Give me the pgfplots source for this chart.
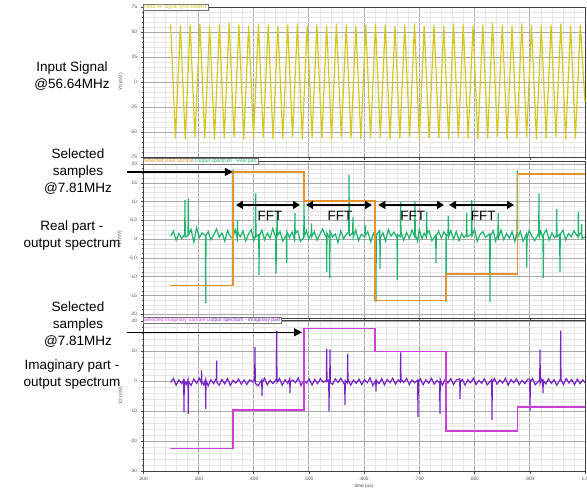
\documentclass[border=0pt]{standalone}
\usepackage{fontspec}
\setmainfont{Liberation Sans}
\usepackage{pgfplots}
\pgfplotsset{compat=1.18}
\usetikzlibrary{arrows.meta}

\definecolor{sigyellow}{HTML}{D4C81E}
\definecolor{selorange}{HTML}{E8922C}
\definecolor{outgreen}{HTML}{1DB46C}
\definecolor{selmagenta}{HTML}{CC3FD9}
\definecolor{outpurple}{HTML}{7A22C8}
\definecolor{majgrid}{HTML}{A8A8A8}
\definecolor{mingrid}{HTML}{E6E6E6}

\pgfplotsset{
  panel/.style={
    scale only axis, width=442pt,
    xmin=0.2, xmax=1.0,
    xtick distance=0.1, minor x tick num=4,
    grid=both,
    major grid style={line width=0.5pt, draw=majgrid},
    minor grid style={line width=0.3pt, draw=mingrid},
    axis line style={draw=black!75, line width=0.7pt},
    tick align=outside, major tick length=2.5pt, minor tick length=1.2pt,
    tick style={black!70, line width=0.4pt},
    xtick pos=bottom, ytick pos=left,
    ticklabel style={font=\fontsize{4.8}{5}\selectfont, text=black!70},
    /pgf/number format/assume math mode=true,
    ylabel style={font=\fontsize{4.8}{5}\selectfont, text=black!70},
    xlabel style={font=\fontsize{4.8}{5}\selectfont, text=black!70},
    clip=false,
  },
}
\tikzset{
  tab/.style={anchor=west, inner xsep=1pt, inner ysep=0.8pt, fill=white,
    draw=black!55, line width=0.3pt, font=\fontsize{5}{5.5}\selectfont},
  callout/.style={draw=black, line width=1.5pt, -{Triangle[length=8pt,width=8pt]}},
  fftarrow/.style={draw=black, line width=1.5pt, {Triangle[length=7pt,width=8pt]}-{Triangle[length=7pt,width=8pt]}},
  fft/.style={font=\fontsize{13.5}{14}\selectfont, inner sep=0pt},
}

\begin{document}
\begin{tikzpicture}
\path[use as bounding box] (0,0) rectangle (587pt,-489pt);

% ---------------- input signal ----------------
\begin{axis}[panel, at={(143pt,-7pt)}, anchor=north west, height=150pt,
  ymin=-75, ymax=75, ytick distance=25, minor y tick num=4,
  xticklabels={}, ylabel={Y0 (mV)}]
\addplot[sigyellow, line width=1.2pt, line join=round] coordinates {
(0.2500,57) (0.2588,-56) (0.2677,56) (0.2765,-57) (0.2853,57) (0.2941,-55)
(0.3030,58) (0.3118,-56) (0.3206,56) (0.3294,-57) (0.3383,57) (0.3471,-56)
(0.3559,59) (0.3648,-55) (0.3736,57) (0.3824,-57) (0.3912,56) (0.4001,-56)
(0.4089,58) (0.4177,-55) (0.4266,57) (0.4354,-57) (0.4442,56) (0.4530,-56)
(0.4619,57) (0.4707,-55) (0.4795,58) (0.4883,-57) (0.4972,56) (0.5060,-56)
(0.5148,57) (0.5237,-56) (0.5325,56) (0.5413,-57) (0.5501,58) (0.5590,-55)
(0.5678,57) (0.5766,-56) (0.5854,56) (0.5943,-57) (0.6031,57) (0.6119,-56)
(0.6208,58) (0.6296,-55) (0.6384,57) (0.6472,-57) (0.6561,56) (0.6649,-56)
(0.6737,57) (0.6826,-55) (0.6914,58) (0.7002,-57) (0.7090,56) (0.7179,-56)
(0.7267,57) (0.7355,-56) (0.7443,56) (0.7532,-57) (0.7620,58) (0.7708,-55)
(0.7797,57) (0.7885,-56) (0.7973,56) (0.8061,-57) (0.8150,57) (0.8238,-56)
(0.8326,59) (0.8414,-55) (0.8503,57) (0.8591,-57) (0.8679,56) (0.8768,-56)
(0.8856,58) (0.8944,-55) (0.9032,57) (0.9121,-57) (0.9209,56) (0.9297,-56)
(0.9386,57) (0.9474,-55) (0.9562,58) (0.9650,-57) (0.9739,56) (0.9827,-56)
(0.9915,57) (1.0000,-20)
};
\node[tab] at (rel axis cs:0,1) {\textcolor{sigyellow}{Input RF signal @56.64MHz}};
\end{axis}

% ---------------- real part ----------------
\begin{axis}[panel, at={(143pt,-161pt)}, anchor=north west, height=157pt,
  ymin=-21, ymax=20.8, ytick={-20,-15,-10,-5,0,5,10,15,20},
  yticklabels={-20,-15,-10,-5.0,0,5.0,10,15,20}, minor y tick num=3,
  xticklabels={}, ylabel={Y1 (mV)}]
\addplot[outgreen, line width=1.2pt] coordinates {
(0.250,0.8) (0.255,2.1) (0.260,-0.3) (0.265,1.5) (0.270,0.2) (0.2755,1.2)
(0.276,10.4) (0.2765,0.6) (0.2815,0.9) (0.282,10.8) (0.2825,1.3) (0.287,2.6)
(0.292,-0.8) (0.297,3.0) (0.302,0.4) (0.307,1.7) (0.3130,0.9) (0.3135,-17.0)
(0.3140,1.0) (0.318,2.0) (0.323,-0.2) (0.328,1.1) (0.333,2.7) (0.338,0.5)
(0.343,1.6) (0.348,-0.6) (0.353,2.3) (0.358,0.7) (0.3630,0.2) (0.3635,18.5)
(0.3640,1.3) (0.367,2.4) (0.3705,0.1) (0.371,5.0) (0.3715,1.8) (0.376,0.6)
(0.381,2.2) (0.386,-0.5) (0.391,1.4) (0.396,2.5) (0.4005,-0.4) (0.4035,1.0)
(0.404,12.2) (0.4045,0.6) (0.4095,1.2) (0.410,-9.6) (0.4105,0.8) (0.415,2.4)
(0.420,-0.2) (0.425,1.6) (0.430,0.3) (0.435,2.8) (0.4400,0.5) (0.4407,-9.2)
(0.4420,1.3) (0.443,7.3) (0.4435,1.0) (0.448,2.0) (0.453,-0.5) (0.4595,1.1)
(0.460,-6.3) (0.4605,2.0) (0.465,0.4) (0.470,1.9) (0.4745,-0.3) (0.475,6.9)
(0.4755,1.4) (0.480,2.2) (0.485,-0.6) (0.4910,0.5) (0.4914,10.5) (0.4920,0.8)
(0.496,2.3) (0.500,0.0) (0.5045,1.5) (0.505,4.2) (0.5055,0.7) (0.510,2.0)
(0.515,-0.3) (0.520,1.2) (0.525,2.7) (0.5320,0.4) (0.5325,-8.7) (0.5330,1.6)
(0.5375,0.2) (0.538,-10.4) (0.5385,2.1) (0.543,0.6) (0.548,1.4) (0.553,-0.9)
(0.558,2.2) (0.563,0.1) (0.568,1.3) (0.5725,2.0) (0.5729,17.1) (0.5735,0.9)
(0.5795,1.6) (0.580,5.8) (0.5805,0.5) (0.585,2.4) (0.590,-0.4) (0.595,1.3)
(0.6015,0.5) (0.602,3.8) (0.6025,1.1) (0.607,2.0) (0.612,-0.7) (0.617,1.5)
(0.6212,0.3) (0.6217,-16.7) (0.6222,1.1) (0.6285,2.3) (0.629,-8.0) (0.6295,0.2)
(0.634,1.7) (0.639,-0.5) (0.644,2.5) (0.649,0.8) (0.654,1.9) (0.6598,0.4)
(0.6603,-10.9) (0.6608,1.2) (0.6659,0.6) (0.6664,10.0) (0.6669,2.0) (0.672,-0.3)
(0.677,1.8) (0.682,0.2) (0.687,2.4) (0.6918,0.7) (0.6923,10.0) (0.6928,1.3)
(0.697,-0.6) (0.700,2.6) (0.705,0.1) (0.709,1.6) (0.7130,0.5) (0.7135,7.3)
(0.7140,1.4) (0.718,2.2) (0.723,-0.4) (0.7298,1.0) (0.7303,-6.3) (0.7308,0.8)
(0.735,2.1) (0.740,0.3) (0.7445,1.9) (0.7482,1.2) (0.7486,-16.7) (0.7490,0.8)
(0.7521,1.5) (0.7526,6.2) (0.7531,0.6) (0.757,2.3) (0.762,0.0) (0.767,2.0)
(0.772,-0.4) (0.777,1.5) (0.781,0.4) (0.7854,1.2) (0.7859,6.9) (0.7864,0.6)
(0.7945,1.3) (0.795,10.4) (0.7955,0.9) (0.800,2.6) (0.805,-0.6) (0.810,1.2)
(0.815,2.0) (0.820,0.5) (0.8275,1.4) (0.828,-16.7) (0.8285,0.7) (0.834,2.2)
(0.838,-0.5) (0.8425,1.3) (0.843,6.9) (0.8435,0.4) (0.848,2.4) (0.853,-0.2)
(0.858,1.5) (0.863,0.3) (0.868,2.0) (0.873,-0.6) (0.8770,1.8) (0.8775,18.3)
(0.8780,0.5) (0.883,2.0) (0.888,-0.6) (0.8940,1.4) (0.8945,-7.5) (0.8950,0.2)
(0.899,2.3) (0.904,0.8) (0.909,-0.4) (0.9162,1.5) (0.9167,12.2) (0.9172,0.6)
(0.920,2.1) (0.9240,0.2) (0.9245,-10.4) (0.9250,1.2) (0.930,2.5) (0.935,-0.3)
(0.940,1.6) (0.945,0.4) (0.9483,1.0) (0.9488,8.0) (0.9493,0.6) (0.9542,1.3)
(0.9547,-8.7) (0.9552,1.2) (0.960,2.4) (0.965,-0.2) (0.970,1.5) (0.975,0.6)
(0.980,2.2) (0.9875,0.5) (0.988,7.3) (0.9885,1.0) (0.9935,1.8) (0.9940,4.0)
(0.9945,0.2) (1.000,0.6)
};
\addplot[selorange, line width=1.5pt, line cap=round] coordinates {
(0.250,-12.3) (0.3629,-12.3) (0.3629,17.9) (0.4914,17.9) (0.4914,10.1)
(0.6198,10.1) (0.6198,-16.4) (0.7484,-16.4) (0.7484,-9.3) (0.8775,-9.3)
(0.8775,17.3) (0.9995,17.3)
};
\node[tab] at (rel axis cs:0,1) {\textcolor{selorange}{Selected Real Sample} \textcolor{outgreen}{Output spectrum - Real part}};
\draw[callout] (axis cs:0.171,17.9) -- (axis cs:0.3625,17.9);
\draw[fftarrow] (axis cs:0.3683,9.1) -- (axis cs:0.4842,9.1);
\draw[fftarrow] (axis cs:0.4950,9.1) -- (axis cs:0.6145,9.1);
\draw[fftarrow] (axis cs:0.6258,9.1) -- (axis cs:0.7448,9.1);
\draw[fftarrow] (axis cs:0.7541,9.1) -- (axis cs:0.8715,9.1);
\node[fft] at (axis cs:0.4300,6.3) {FFT};
\node[fft] at (axis cs:0.5566,6.3) {FFT};
\node[fft] at (axis cs:0.6881,6.3) {FFT};
\node[fft] at (axis cs:0.8159,6.3) {FFT};
\end{axis}

% ---------------- imaginary part ----------------
\begin{axis}[panel, at={(143pt,-320pt)}, anchor=north west, height=151pt,
  ymin=-30, ymax=20.3, ytick={-30,-20,-10,0,10,20}, minor y tick num=4,
  xtick={0.2,0.3,0.4,0.5,0.6,0.7,0.8,0.9,1.0},
  xticklabels={.200,.300,.400,.500,.600,.700,.800,.900,1.0},
  xlabel={time (us)}, ylabel={Y2 (mV)}, xlabel style={yshift=3pt}]
\addplot[outpurple, line width=1.2pt] coordinates {
(0.250,-0.5) (0.255,0.8) (0.260,-1.4) (0.265,0.3) (0.270,-0.9) (0.2737,0.4)
(0.2742,-10.4) (0.2747,0.2) (0.278,-1.2) (0.2815,0.5) (0.282,-11.0) (0.2825,-0.3)
(0.287,-1.5) (0.292,0.6) (0.297,-0.8) (0.302,0.9) (0.3055,-0.6) (0.306,3.5)
(0.3065,-0.2) (0.310,-1.3) (0.3130,0.4) (0.3135,-9.3) (0.3140,0.1) (0.318,-1.6)
(0.323,0.4) (0.328,-0.9) (0.3328,0.9) (0.3333,6.8) (0.3338,-0.6) (0.338,-1.4)
(0.343,0.5) (0.348,-1.0) (0.353,0.8) (0.358,-1.5) (0.363,0.2) (0.368,-0.7)
(0.373,0.6) (0.378,-1.1) (0.383,0.3) (0.388,-1.2) (0.393,0.4) (0.398,-0.3)
(0.4022,0.5) (0.4027,11.3) (0.4032,-0.8) (0.408,-1.6) (0.4149,0.3) (0.4154,-5.0)
(0.4159,-0.6) (0.420,0.9) (0.425,-1.3) (0.430,0.2) (0.435,-0.9) (0.4415,0.6)
(0.442,16.8) (0.4425,-0.5) (0.447,0.8) (0.452,-1.4) (0.457,0.4) (0.462,-0.8)
(0.4655,0.7) (0.466,-4.0) (0.4665,-0.2) (0.471,0.3) (0.476,-0.6) (0.481,1.0)
(0.486,-1.5) (0.491,0.2) (0.496,-0.7) (0.501,0.6) (0.506,-1.3) (0.511,0.5)
(0.516,-0.9) (0.521,0.8) (0.526,-0.4) (0.5320,0.2) (0.5325,10.7) (0.5330,-0.2)
(0.5362,0.3) (0.5367,-10.0) (0.5372,-0.4) (0.5380,0.4) (0.5385,10.5) (0.5390,-0.6)
(0.543,-1.1) (0.548,0.7) (0.553,-0.5) (0.558,0.9) (0.5651,-1.3) (0.5656,-8.0)
(0.5661,0.1) (0.5700,-0.7) (0.5705,9.0) (0.5710,0.5) (0.576,-1.4) (0.581,0.3)
(0.586,-0.8) (0.591,0.6) (0.596,-1.2) (0.601,0.4) (0.606,-0.6) (0.611,1.0)
(0.616,-1.5) (0.6212,0.2) (0.6217,-3.5) (0.6222,0.2) (0.627,-0.9) (0.632,0.7)
(0.637,-1.3) (0.642,0.5) (0.647,-0.6) (0.652,0.9) (0.657,-1.0) (0.662,0.3)
(0.6659,-0.4) (0.6664,9.5) (0.6669,0.6) (0.672,-0.5) (0.677,0.8) (0.682,-1.2)
(0.687,0.3) (0.692,-0.6) (0.6972,0.3) (0.6977,-12.0) (0.6982,-0.4) (0.702,0.7)
(0.707,-1.3) (0.712,0.4) (0.717,-0.8) (0.722,0.9) (0.727,-1.1) (0.732,0.2)
(0.7370,-0.6) (0.7375,-11.0) (0.7380,0.5) (0.742,-1.4) (0.747,0.6) (0.752,-0.7)
(0.757,0.8) (0.762,-1.2) (0.767,0.3) (0.7733,0.7) (0.7738,-6.0) (0.7743,-0.3)
(0.778,0.5) (0.783,-1.4) (0.788,0.4) (0.793,-0.6) (0.798,0.9) (0.803,-1.2)
(0.808,0.2) (0.813,-0.8) (0.818,0.7) (0.823,-1.3) (0.8312,0.4) (0.8317,-13.0)
(0.8322,-0.5) (0.836,0.8) (0.841,-1.1) (0.846,0.3) (0.851,-0.7) (0.856,0.9)
(0.861,-1.4) (0.866,0.5) (0.871,-0.6) (0.876,0.7) (0.881,-1.2) (0.886,0.2)
(0.891,-0.9) (0.8965,0.6) (0.9000,0.6) (0.9005,-10.0) (0.9010,-0.4) (0.905,0.8)
(0.910,-1.3) (0.9181,0.3) (0.9186,10.4) (0.9191,-0.6) (0.921,0.5) (0.9235,-0.5)
(0.9240,-4.0) (0.9245,0.2) (0.929,-1.0) (0.934,0.7) (0.939,-0.8) (0.944,0.4)
(0.949,-1.4) (0.9555,0.6) (0.956,16.8) (0.9565,0.3) (0.961,-1.2) (0.966,0.8)
(0.971,-0.7) (0.976,0.5) (0.981,-1.3) (0.986,0.6) (0.991,-0.9) (0.996,0.4)
(1.000,-0.6)
};
\addplot[selmagenta, line width=1.5pt, line cap=round] coordinates {
(0.250,-22.5) (0.3629,-22.5) (0.3629,-9.6) (0.4914,-9.6) (0.4914,17.4)
(0.6198,17.4) (0.6198,9.8) (0.7484,9.8) (0.7484,-16.6) (0.8775,-16.6)
(0.8775,-8.7) (0.9995,-8.7)
};
\node[tab] at (rel axis cs:0,1) {\textcolor{selmagenta}{Selected Imaginary Sample} \textcolor{outpurple}{Output spectrum - Imaginary part}};
\draw[callout] (axis cs:0.171,16.2) -- (axis cs:0.4878,16.2);
\end{axis}

% ---------------- side captions ----------------
\begin{scope}[every node/.style={align=center, font=\fontsize{13.5}{17}\selectfont, inner sep=0pt}]
\node at (72pt,-76pt) {Input Signal\\@56.64MHz};
\node at (78pt,-172pt) {Selected\\samples\\@7.81MHz};
\node at (72pt,-236pt) {Real part -\\output spectrum};
\node at (78pt,-325pt) {Selected\\samples\\@7.81MHz};
\node at (72pt,-375pt) {Imaginary part -\\output spectrum};
\end{scope}
\end{tikzpicture}
\end{document}
